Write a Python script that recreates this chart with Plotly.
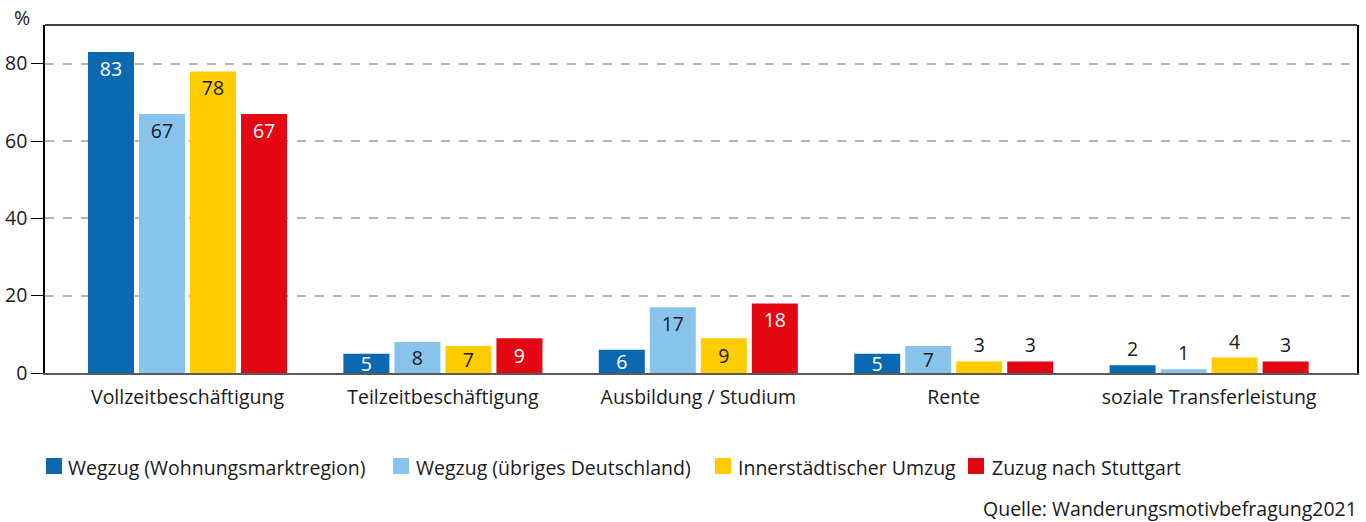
import plotly.graph_objects as go

categories = ["Vollzeitbeschäftigung", "Teilzeitbeschäftigung", "Ausbildung / Studium", "Rente", "soziale Transferleistung"]
series_names = ["Wegzug (Wohnungsmarktregion)", "Wegzug (übriges Deutschland)", "Innerstädtischer Umzug", "Zuzug nach Stuttgart"]
wegzug_wmr = [83, 5, 6, 5, 2]
wegzug_de = [67, 8, 17, 7, 1]
innerstaedtisch = [78, 7, 9, 3, 4]
zuzug = [67, 9, 18, 3, 3]
y_ticks = [0, 20, 40, 60, 80]
source_text = "Quelle: Wanderungsmotivbefragung2021"

series = [wegzug_wmr, wegzug_de, innerstaedtisch, zuzug]
colors = ["#0B69B2", "#87C3EA", "#FFCC00", "#E30613"]
inside_text_colors = ["white", "#1a1a1a", "#1a1a1a", "white"]
FONT = "Open Sans, Noto Sans, sans-serif"
TXT = "#1a1a1a"
FS = 19.5

# layout geometry (pixels)
W, H = 1366, 522
ML, MR, MT, MB = 45, 9, 25, 149
PW, PH = W - ML - MR, H - MT - MB


def px_x(px):
    return (px - ML) / PW


def px_y(py):
    return (H - MB - py) / PH


fig = go.Figure()
for name, vals, col, tcol in zip(series_names, series, colors, inside_text_colors):
    # trace A: tall bars (label at top inside) and tiny bars (label outside)
    a_vals = [v if (v >= 10 or v < 5) else None for v in vals]
    a_pos = ["inside" if (v is not None and v >= 10) else "outside" for v in a_vals]
    # trace B: short bars, label centred inside
    b_vals = [v if 5 <= v < 10 else None for v in vals]
    for yv, pos, anchor in ((a_vals, a_pos, "end"), (b_vals, "inside", "middle")):
        fig.add_trace(go.Bar(
            x=categories, y=yv, name=name, offsetgroup=name, showlegend=False,
            marker=dict(color=col, line=dict(width=0)),
            text=[("" if v is None else str(v)) for v in yv],
            textposition=pos,
            insidetextanchor=anchor,
            insidetextfont=dict(color=tcol, size=FS, family=FONT),
            outsidetextfont=dict(color=TXT, size=FS, family=FONT),
            textangle=0,
            cliponaxis=False,
            hoverinfo="x+y+name",
        ))

annotations = [
    dict(text="%", xref="paper", yref="paper", x=px_x(22), y=px_y(18), xanchor="center", yanchor="middle",
         showarrow=False, font=dict(size=FS, color=TXT)),
    dict(text=source_text, xref="paper", yref="paper",
         x=px_x(1359), y=px_y(508), xanchor="right", yanchor="middle", showarrow=False,
         font=dict(size=FS, color=TXT)),
]
shapes = [dict(type="line", xref="paper", yref="paper", x0=0, x1=1, y0=1, y1=1,
               line=dict(color="black", width=1.5))]

# manual legend
swatch_left = [46, 393, 715, 968]
text_left = [66, 414, 736, 990]
sw_top, sw_size, leg_mid = 458, 16, 467
for name, col, sx, tx in zip(series_names, colors, swatch_left, text_left):
    shapes.append(dict(type="rect", xref="paper", yref="paper",
                       x0=px_x(sx), x1=px_x(sx + sw_size), y0=px_y(sw_top + sw_size), y1=px_y(sw_top),
                       fillcolor=col, line=dict(width=0)))
    annotations.append(dict(text=name, xref="paper", yref="paper", x=px_x(tx), y=px_y(leg_mid),
                            xanchor="left", yanchor="middle", showarrow=False,
                            font=dict(size=FS, color=TXT)))

fig.update_layout(
    width=W, height=H,
    margin=dict(l=ML, r=MR, t=MT, b=MB),
    paper_bgcolor="white", plot_bgcolor="white",
    barmode="group", bargap=0.201, bargroupgap=0.098,
    font=dict(family=FONT, size=FS, color=TXT),
    uniformtext=dict(minsize=FS, mode="show"),
    showlegend=False,
    xaxis=dict(range=[-0.558, 4.579], showline=True, linecolor="#5a5a5a", linewidth=2,
               ticks="", tickfont=dict(size=FS), showgrid=False, zeroline=False,
               automargin=False, ticklabelstandoff=6),
    yaxis=dict(range=[0, 90], tickvals=y_ticks, ticks="outside", ticklen=12, tickcolor="black",
               tickwidth=1, showline=True, linecolor="black", linewidth=1.5, mirror=True,
               showgrid=True, gridcolor="#b5b5b5", griddash="dash", gridwidth=1.5,
               zeroline=False, tickfont=dict(size=FS), automargin=False),
    annotations=annotations,
    shapes=shapes,
)

fig.write_html("out.html", config={"displayModeBar": False},
               post_script="document.body.style.margin='0';document.body.style.overflow='hidden';")
